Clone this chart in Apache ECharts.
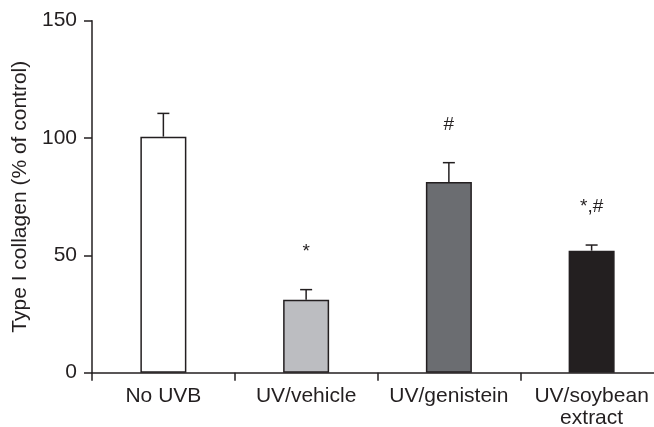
<!DOCTYPE html>
<html>
<head>
<meta charset="utf-8">
<script src="https://cdn.jsdelivr.net/npm/echarts@6/dist/echarts.min.js"></script>
<style>
  html, body { margin: 0; padding: 0; background: #fff; }
  #chart { width: 654px; height: 427px; }
</style>
</head>
<body>
<div id="chart"></div>
<script>
// Type I collagen levels per treatment group (% of control)
const categories = ['No UVB', 'UV/vehicle', 'UV/genistein', 'UV/soybean\nextract'];
const means = [100.6, 31.1, 81.3, 52.0];
const errorTops = [110.5, 35.4, 89.5, 54.4];
const significance = ['', '*', '#', '*,#'];
const barColors = ['#ffffff', '#bcbdc1', '#6b6d71', '#231f20'];
const yTicks = [0, 50, 100, 150];

const ink = '#231f20';
const font = '"Liberation Sans", Arial, Helvetica, sans-serif';

const chart = echarts.init(document.getElementById('chart'), null, { renderer: 'canvas' });

chart.setOption({
  animation: false,
  backgroundColor: '#ffffff',
  grid: {
    left: 92, right: -9, top: 20.7, bottom: 54.3,
    containLabel: false,
    outerBoundsMode: 'none'
  },
  xAxis: {
    type: 'category',
    data: categories,
    axisLine: { lineStyle: { color: ink, width: 1.5 } },
    axisTick: { show: true, length: 8, interval: 0, lineStyle: { color: ink, width: 1.5 } },
    axisLabel: { color: ink, fontFamily: font, fontSize: 21, margin: 13, lineHeight: 22, interval: 0 }
  },
  yAxis: {
    type: 'value',
    min: yTicks[0],
    max: yTicks[yTicks.length - 1],
    interval: 50,
    name: 'Type I collagen (% of control)',
    nameLocation: 'middle',
    nameGap: 58,
    nameTextStyle: { color: ink, fontFamily: font, fontSize: 21 },
    splitLine: { show: false },
    axisLine: { show: true, lineStyle: { color: ink, width: 1.5 } },
    axisTick: { show: true, length: 8, lineStyle: { color: ink, width: 1.5 } },
    axisLabel: { color: ink, fontFamily: font, fontSize: 21, margin: 15 }
  },
  series: [
    {
      type: 'bar',
      barWidth: 46,
      data: means.map((v, i) => ({
        value: v,
        itemStyle: { color: barColors[i], borderColor: ink, borderWidth: 1.5 }
      }))
    },
    {
      type: 'custom',
      z: 5,
      data: means.map((v, i) => [i, v, errorTops[i], significance[i]]),
      renderItem: function (params, api) {
        const base = api.coord([api.value(0), api.value(1)]);
        const top = api.coord([api.value(0), api.value(2)]);
        const half = 6;
        const lineStyle = { stroke: ink, lineWidth: 1.5 };
        const children = [
          { type: 'line', shape: { x1: base[0], y1: base[1], x2: top[0], y2: top[1] }, style: lineStyle },
          { type: 'line', shape: { x1: top[0] - half, y1: top[1], x2: top[0] + half, y2: top[1] }, style: lineStyle }
        ];
        const mark = significance[params.dataIndex];
        if (mark) {
          children.push({
            type: 'text',
            style: {
              text: mark,
              x: top[0],
              y: top[1] - 38,
              textAlign: 'center',
              textVerticalAlign: 'middle',
              fill: ink,
              font: '19px ' + font
            }
          });
        }
        return { type: 'group', children: children };
      }
    }
  ]
});
</script>
</body>
</html>
